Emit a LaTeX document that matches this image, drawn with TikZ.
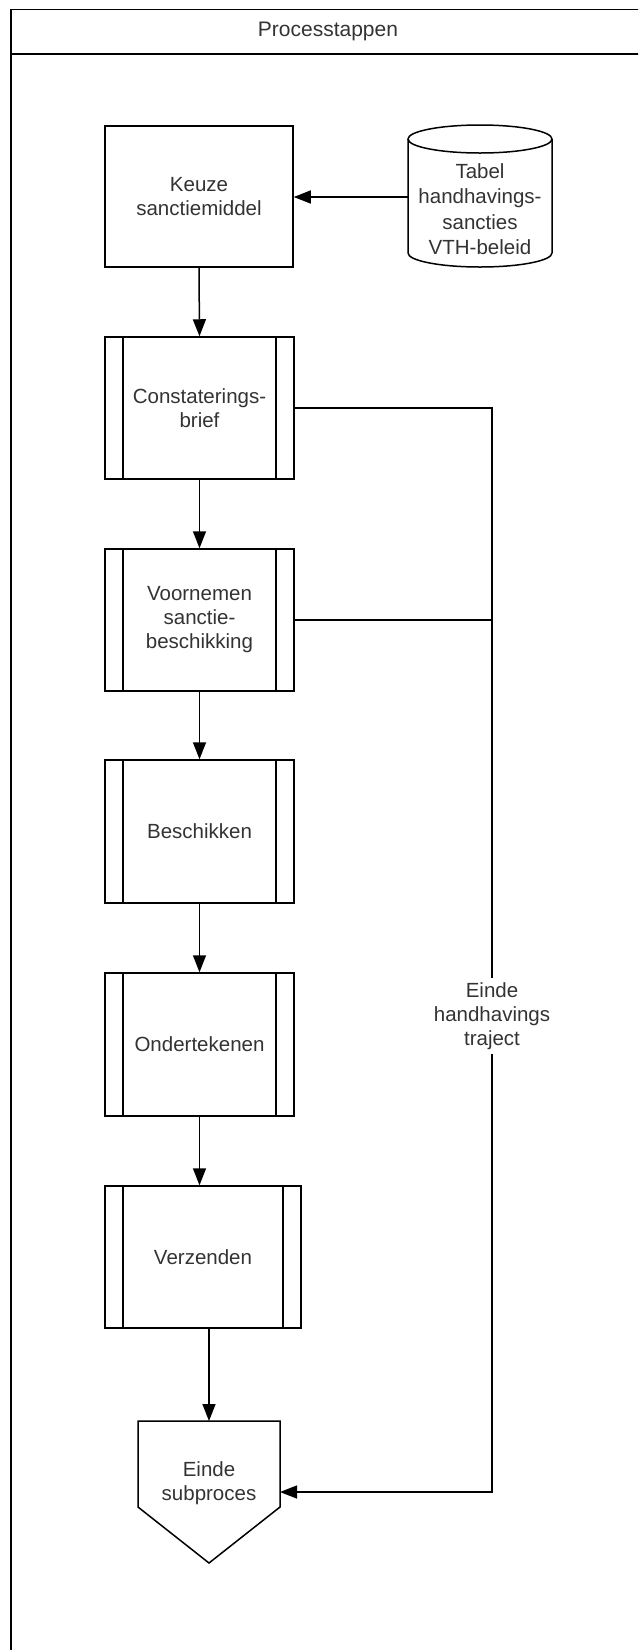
\documentclass[tikz,border=0pt]{standalone}
\usepackage{fontspec}
\setmainfont{Liberation Sans}
\usetikzlibrary{arrows.meta}
\tikzset{
  stap/.style={draw, line width=1.5pt, minimum width=189pt, minimum height=142pt,
    align=center, text=black!80, font=\fontsize{20.5}{24}\selectfont},
  substap/.style={stap, path picture={
    \draw[line width=1.5pt]
      ([xshift=18pt]path picture bounding box.north west) -- ([xshift=18pt]path picture bounding box.south west)
      ([xshift=-18pt]path picture bounding box.north east) -- ([xshift=-18pt]path picture bounding box.south east);}},
  tekst/.style={align=center, text=black!80, font=\fontsize{20.5}{24}\selectfont},
  pijl/.style={-{Triangle[length=17pt,width=13pt]}, line width=1.5pt},
  lijn/.style={line width=1.5pt}
}
\begin{document}
\begin{tikzpicture}[x=1pt,y=-1pt]
	\clip (0,0) rectangle (638,1650);
	% Draw swimlane frame with header
	\draw [lijn] (11,1700) -- (11,9.5) -- (700,9.5);
	\draw [lijn] (11,54) -- (700,54);
	\node (kop) at (328,31) [text=black!80, font=\fontsize{21}{24}\selectfont] {Processtappen};
	% Draw the process steps
	\node (keuze) at (199,196.5) [stap, minimum width=188pt, minimum height=141pt] {Keuze\\sanctiemiddel};
	\node (constat) at (199.5,408) [substap] {Constaterings-\\brief};
	\node (voornemen) at (199.5,620) [substap] {Voornemen\\sanctie-\\beschikking};
	\node (beschikken) at (199.5,831.5) [substap, minimum height=143pt] {Beschikken};
	\node (onderteken) at (199.5,1044.5) [substap, minimum height=143pt] {Ondertekenen};
	\node (verzenden) at (203,1257) [substap, minimum width=196pt] {Verzenden};
	% Draw the data store (cylinder)
	\node (tabel) at (480,209) [tekst, font=\fontsize{20.5}{25.5}\selectfont, minimum width=144pt, minimum height=80pt] {Tabel\\handhavings-\\sancties\\VTH-beleid};
	\draw [lijn] (480,139) ellipse [x radius=72, y radius=14];
	\draw [lijn] (408,139) -- (408,253) arc [start angle=180, end angle=0, x radius=72, y radius=14] -- (552,139);
	\coordinate (tabel_in) at (408,197);
	% Draw the end shape (pentagon)
	\coordinate (ein_nw) at (138,1421);
	\coordinate (ein_ne) at (280,1421);
	\coordinate (ein_top) at (209,1421);
	\coordinate (ein_in) at (280,1492);
	\draw [lijn] (ein_nw) -- (ein_ne) -- (280,1507) -- (209,1563) -- (138,1507) -- cycle;
	\node (einde) at (209,1483) [tekst] {Einde\\subproces};
	% Draw the connectors
	\draw [pijl] (tabel_in) -- (tabel_in -| keuze.east);
	\draw [pijl] (keuze.south) -- (constat.north);
	\draw [pijl] (constat.south) -- (voornemen.north);
	\draw [pijl] (voornemen.south) -- (beschikken.north);
	\draw [pijl] (beschikken.south) -- (onderteken.north);
	\draw [pijl] (onderteken.south) -- (onderteken.south |- verzenden.north);
	\draw [pijl] (ein_top |- verzenden.south) -- (ein_top);
	% Side branch to the end of the enforcement
	\coordinate (j1) at (492,408);
	\node (traject) at (492,1016) [tekst, inner sep=4pt] {Einde\\handhavings\\traject};
	\draw [lijn] (constat.east) -- (j1) -- (traject.north);
	\draw [lijn] (voornemen.east) -- (voornemen.east -| j1);
	\draw [pijl] (traject.south) |- (ein_in);
\end{tikzpicture}
\end{document}
